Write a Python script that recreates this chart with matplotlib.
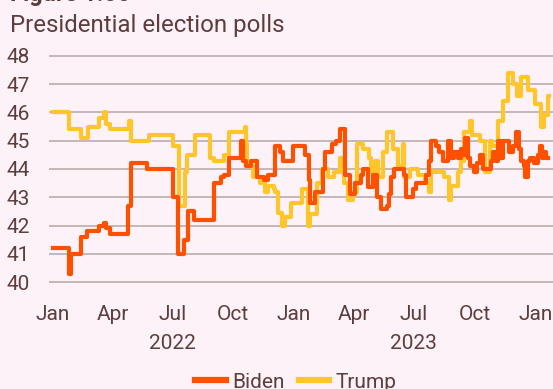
import matplotlib
matplotlib.use("Agg")
import matplotlib.pyplot as plt
import pandas as pd

# Days since 2022-01-01 and poll values (step series)
biden_days = [0, 25, 27, 42, 52, 70, 77, 81, 87, 114, 118, 143, 182, 190, 199, 204, 214,
              244, 255, 259, 267, 285, 288, 292, 300, 309, 320, 326, 336, 344, 349, 364,
              382, 387, 389, 397, 402, 409, 412, 422, 429, 435, 442, 449, 458, 466, 470,
              477, 484, 491, 497, 505, 508, 512, 516, 532, 535, 545, 550, 564, 569, 573,
              580, 585, 590, 598, 603, 607, 613, 617, 621, 624, 628, 631, 638, 642, 647,
              651, 663, 666, 670, 674, 679, 682, 691, 696, 701, 705, 709, 713, 715, 719,
              722, 728, 734, 738, 741, 744, 747, 750]
biden_vals = [41.2, 40.3, 41.0, 41.6, 41.8, 42.0, 42.1, 41.9, 41.7, 42.7, 44.2, 44.0, 43.0,
              41.0, 41.5, 42.5, 42.2, 43.5, 43.7, 43.8, 44.4, 45.0, 44.3, 44.1, 44.3, 43.7,
              43.6, 43.8, 44.8, 44.6, 44.3, 44.8, 44.5, 43.6, 42.8, 43.2, 43.2, 44.0, 44.6,
              44.9, 45.0, 45.4, 43.8, 43.1, 43.5, 43.8, 44.0, 43.35, 43.8, 43.0, 42.6, 42.7,
              43.1, 43.7, 44.0, 43.8, 43.0, 43.3, 43.5, 43.8, 44.3, 45.0, 44.8, 44.6, 44.3,
              45.0, 44.4, 44.6, 44.4, 44.7, 44.5, 45.1, 44.4, 44.1, 43.9, 44.2, 44.5, 44.0,
              44.3, 44.6, 44.3, 45.0, 44.4, 45.0, 44.6, 44.8, 45.3, 44.7, 44.3, 44.1, 43.7,
              44.3, 44.4, 44.2, 44.5, 44.8, 44.4, 44.6, 44.4, 44.4]

trump_days = [0, 24, 42, 53, 70, 77, 80, 87, 115, 118, 146, 182, 191, 200, 203, 215, 238,
              244, 259, 266, 290, 292, 294, 303, 314, 321, 326, 335, 336, 341, 346, 352,
              361, 377, 386, 389, 400, 407, 417, 425, 434, 440, 447, 454, 460, 470, 478,
              482, 487, 492, 500, 505, 515, 522, 530, 532, 540, 553, 563, 570, 573, 592,
              600, 603, 613, 618, 623, 632, 635, 646, 654, 661, 665, 674, 681, 689, 696,
              702, 709, 719, 729, 739, 744, 749, 751]
trump_vals = [46.0, 45.4, 45.1, 45.5, 45.8, 46.0, 45.6, 45.4, 45.7, 45.0, 45.2, 44.8, 42.7,
              43.9, 44.5, 45.2, 44.4, 44.3, 44.5, 45.3, 45.5, 44.9, 44.1, 43.7, 43.5, 43.2,
              43.4, 43.3, 43.2, 42.45, 42.0, 42.3, 42.8, 43.3, 42.0, 42.4, 43.5, 44.0, 43.7,
              43.9, 44.4, 43.5, 42.9, 43.2, 44.9, 44.7, 44.4, 43.9, 44.3, 43.7, 44.6, 45.3,
              44.7, 44.1, 44.9, 43.7, 44.0, 43.8, 43.5, 43.2, 43.9, 43.7, 42.9, 43.4, 43.9,
              44.3, 45.3, 45.7, 45.2, 45.0, 43.9, 45.0, 44.8, 45.7, 46.4, 47.4, 47.0, 46.6,
              47.25, 46.8, 46.3, 45.5, 45.9, 46.6, 46.6]

month_ticks = ["2022-01-01", "2022-04-01", "2022-07-01", "2022-10-01", "2023-01-01",
               "2023-04-01", "2023-07-01", "2023-10-01", "2024-01-01"]
month_labels = ["Jan", "Apr", "Jul", "Oct", "Jan", "Apr", "Jul", "Oct", "Jan"]
year_ticks = ["2022-07-01", "2023-07-01"]
year_labels = ["2022", "2023"]
y_ticks = [40, 41, 42, 43, 44, 45, 46, 47, 48]

BG = "#fcf2f7"
TXT = "#5e3d3d"
BIDEN = "#ff5000"
TRUMP = "#ffc62b"
GRID = "#bcadad"

plt.rcParams['font.family'] = ['Roboto', 'DejaVu Sans']

start = pd.Timestamp("2022-01-01")
b_dates = start + pd.to_timedelta(biden_days, unit="D")
t_dates = start + pd.to_timedelta(trump_days, unit="D")

fig = plt.figure(figsize=(5.53, 3.89), dpi=100, facecolor=BG)
ax = fig.add_axes([49/553, 1 - 290.5/389, 1 - 49/553, (290.5 - 47.5)/389])
ax.set_facecolor(BG)

ax.plot(b_dates, biden_vals, drawstyle="steps-post", color=BIDEN, lw=3.0,
        solid_joinstyle="round", label="Biden", zorder=3)
ax.plot(t_dates, trump_vals, drawstyle="steps-post", color=TRUMP, lw=3.0,
        solid_joinstyle="round", label="Trump", zorder=2)

ax.set_ylim(39.7, 48.3)
ax.set_xlim(start - pd.Timedelta(days=6), start + pd.Timedelta(days=757))
ax.set_yticks(y_ticks)
ax.set_yticklabels([str(v) for v in y_ticks])
ax.yaxis.grid(True, color=GRID, lw=1.2)
ax.set_axisbelow(True)

ax.xaxis.remove_overlapping_locs = False
ax.set_xticks(pd.to_datetime(month_ticks))
ax.set_xticklabels(month_labels)
ax.set_xticks(pd.to_datetime(year_ticks), minor=True)
ax.set_xticklabels(year_labels, minor=True)

ax.tick_params(axis="y", length=0, pad=14, labelsize=15, labelcolor=TXT)
ax.tick_params(axis="x", which="major", length=0, pad=10.5, labelsize=15, labelcolor=TXT)
ax.tick_params(axis="x", which="minor", length=0, pad=31.5, labelsize=15, labelcolor=TXT)

for s in ax.spines.values():
    s.set_visible(False)

fig.text(10/553, 1 - 32/389, "Presidential election polls", fontsize=17.3, color=TXT,
         ha="left", va="baseline")
fig.text(10/553, 1 - 0.5/389, "Figure 1.00", fontsize=17, color=TXT, fontweight="bold",
         ha="left", va="baseline")

leg = fig.legend(loc="center", bbox_to_anchor=(0.535, 1 - 382/389), ncol=2, frameon=False,
                 fontsize=15, handlelength=1.45, handletextpad=0.3, columnspacing=0.7)
for t in leg.get_texts():
    t.set_color(TXT)
for l in leg.get_lines():
    l.set_linewidth(4.5)

fig.savefig("out.png", dpi=100, facecolor=BG)
